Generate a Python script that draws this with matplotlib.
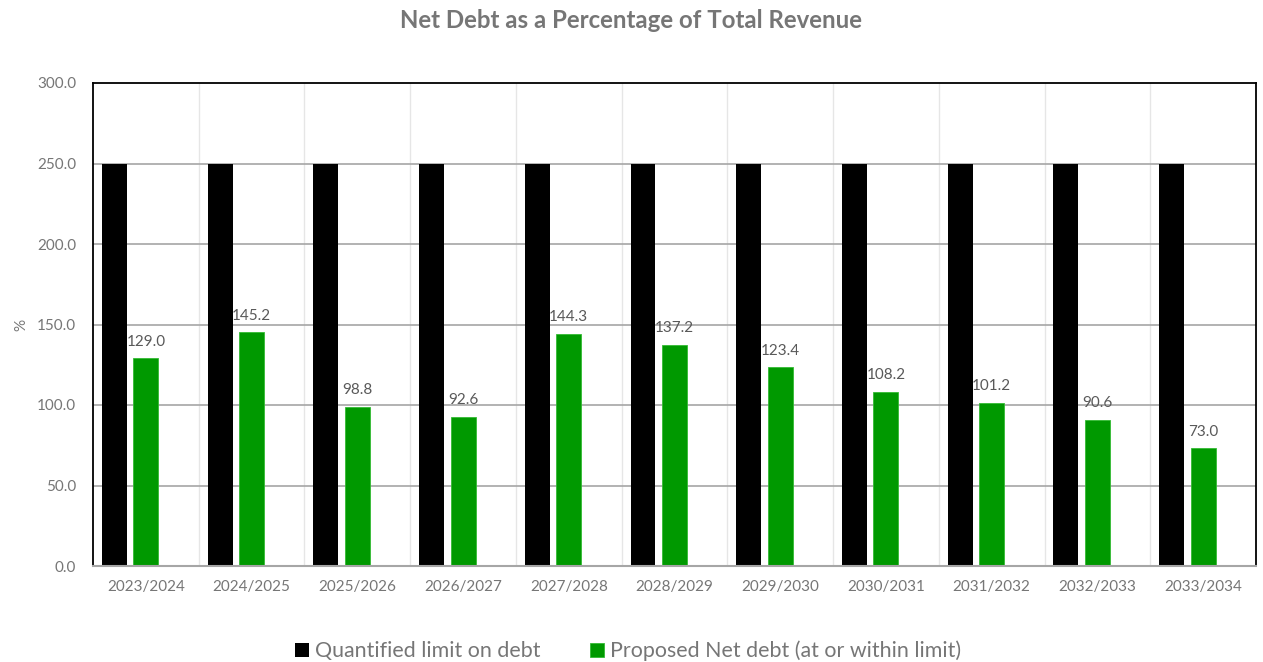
import matplotlib
matplotlib.use("Agg")
import matplotlib.pyplot as plt
import numpy as np

categories = ["2023/2024", "2024/2025", "2025/2026", "2026/2027", "2027/2028",
              "2028/2029", "2029/2030", "2030/2031", "2031/2032", "2032/2033", "2033/2034"]
limit_values = [250.0] * 11
net_debt_values = [129.0, 145.2, 98.8, 92.6, 144.3, 137.2, 123.4, 108.2, 101.2, 90.6, 73.0]
series_names = ["Quantified limit on debt", "Proposed Net debt (at or within limit)"]
yticks = [0, 50, 100, 150, 200, 250, 300]

plt.rcParams['font.family'] = ['Lato', 'DejaVu Sans']
grey = "#767676"
green = "#009900"

fig = plt.figure(figsize=(12.63, 6.62), dpi=100)
ax = fig.add_axes([93/1263, 1 - 566/662, (1256-93)/1263, (566-83)/662])

x = np.arange(len(categories))
slot = 0.298
w = 0.236
ax.bar(x - slot, limit_values, width=w, color="black", label=series_names[0], zorder=3)
bars = ax.bar(x, net_debt_values, width=w, color=green, edgecolor="#33bb33", linewidth=0.6,
              label=series_names[1], zorder=3)
for xi, v in zip(x, net_debt_values):
    ax.annotate(f"{v:.1f}", (xi, v), xytext=(0, 7), textcoords="offset points",
                ha="center", va="bottom", fontsize=11, color="#595959")

ax.set_xlim(-0.5, len(categories) - 0.5)
ax.set_ylim(0, 300)
ax.set_yticks(yticks)
ax.set_yticklabels([f"{t:.1f}" for t in yticks])
ax.set_xticks(x)
ax.set_xticklabels(categories)
ax.tick_params(axis="both", length=0, colors=grey, labelsize=11)
ax.tick_params(axis="x", pad=10)
ax.tick_params(axis="y", pad=12)

for yv in yticks[1:-1]:
    ax.axhline(yv, color="#a6a6a6", linewidth=1.2, zorder=1)
for xb in np.arange(0.5, len(categories) - 0.5, 1.0):
    ax.axvline(xb, color="#e6e6e6", linewidth=1.0, zorder=0)

for s in ["left", "top", "right"]:
    ax.spines[s].set_color("black")
    ax.spines[s].set_linewidth(1.3)
ax.spines["bottom"].set_color("#a6a6a6")
ax.spines["bottom"].set_linewidth(1.5)
ax.spines["bottom"].set_zorder(4)

ax.set_ylabel("%", color=grey, fontsize=11, labelpad=6)
ax.yaxis.set_label_coords(-65/1163, 0.5)

fig.suptitle("Net Debt as a Percentage of Total Revenue", y=1 - 20/662, va="center",
             fontsize=17.3, fontweight="bold", color=grey)

leg = fig.legend(loc="center", bbox_to_anchor=(628/1263, 1 - 651/662), ncol=2, frameon=False,
                 fontsize=15.4, handlelength=0.65, handleheight=0.65, handletextpad=0.3,
                 columnspacing=2.3)
for t in leg.get_texts():
    t.set_color(grey)

fig.savefig("out.png", dpi=100)
